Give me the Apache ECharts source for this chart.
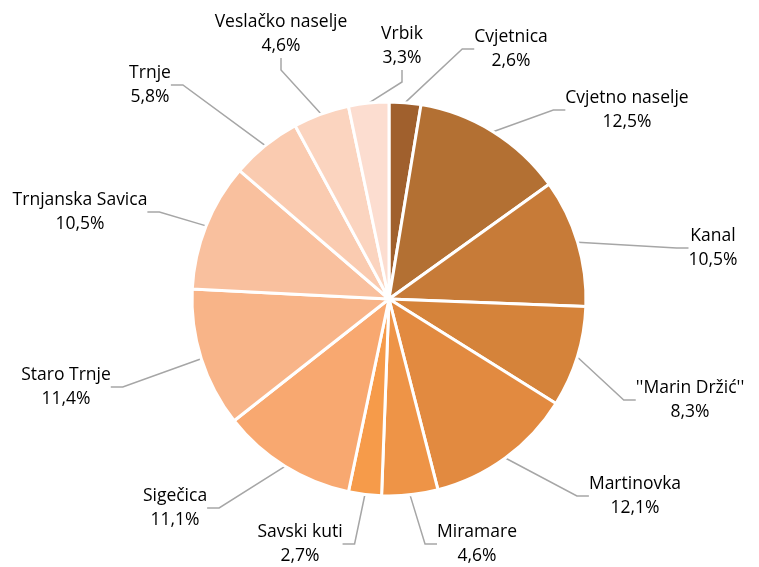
<!DOCTYPE html>
<html>
<head>
<meta charset="utf-8">
<script src="https://cdn.jsdelivr.net/npm/echarts@6/dist/echarts.min.js"></script>
<style>
html, body { margin: 0; padding: 0; background: #fff; }
#pie { width: 759px; height: 567px; }
</style>
</head>
<body>
<div id="pie"></div>
<script>
var names = ['Cvjetnica', 'Cvjetno naselje', 'Kanal', "''Marin Držić''", 'Martinovka', 'Miramare',
  'Savski kuti', 'Sigečica', 'Staro Trnje', 'Trnjanska Savica', 'Trnje', 'Veslačko naselje', 'Vrbik'];
var shares = [2.6, 12.5, 10.5, 8.3, 12.1, 4.6, 2.7, 11.1, 11.4, 10.5, 5.8, 4.6, 3.3];
var colors = ['#A0602D', '#B37033', '#C77B38', '#D5833A', '#E28A40', '#EE9447', '#F69B4A',
  '#F8A870', '#F8B488', '#F9C09E', '#FACBB0', '#FBD4BF', '#FCDDD0'];

// where the labels sit (like the manually dragged labels in the original)
var labelSpots = [[511, 49], [627, 110], [713, 248], [690, 400], [635, 496], [477, 544],
  [300, 544], [175, 508], [66, 387], [80, 212], [150, 85], [281, 34], [402, 46]];

var myChart = echarts.init(document.getElementById('pie'));
var seriesData = names.map(function (n, i) {
  return { name: n, value: shares[i], itemStyle: { color: colors[i] } };
});

var option = {
  animation: false,
  series: [{
    type: 'pie',
    center: [389, 299],
    radius: 197,
    startAngle: 90,
    clockwise: true,
    data: seriesData,
    itemStyle: { borderColor: '#fff', borderWidth: 3 },
    label: {
      show: true,
      position: 'outside',
      fontFamily: 'Open Sans',
      fontSize: 17.5,
      lineHeight: 24,
      color: '#000',
      formatter: function (p) {
        return p.name + '\n' + String(p.value).replace('.', ',') + '%';
      }
    },
    labelLine: {
      show: true,
      length: 30,
      length2: 12,
      lineStyle: { color: '#A6A6A6', width: 1.5 }
    },
    labelLayout: function (p) {
      var s = labelSpots[p.dataIndex];
      return { x: s[0], y: s[1], align: 'center', verticalAlign: 'middle' };
    }
  }]
};
myChart.setOption(option);
</script>
</body>
</html>
